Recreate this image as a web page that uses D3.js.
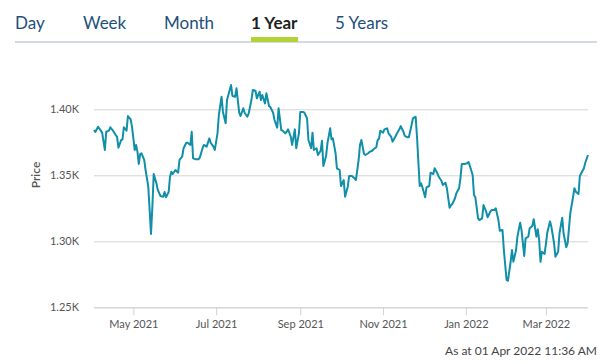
<!DOCTYPE html>
<html><head><meta charset="utf-8">
<script src="https://cdn.jsdelivr.net/npm/d3@7/dist/d3.min.js"></script>
<style>
html,body{margin:0;padding:0;background:#fff;}
svg{display:block;font-family:Lato,"Open Sans",sans-serif;}
</style></head>
<body>
<svg id="chart" width="611" height="364"></svg>
<script>
const tabs = ["Day","Week","Month","1 Year","5 Years"];
const activeTab = "1 Year";
const yTicks = [1250,1300,1350,1400];
const xTicks = ["2021-05-01","2021-07-01","2021-09-01","2021-11-01","2022-01-01","2022-03-01"];
const yTitle = "Price";
const footnote = "As at 01 Apr 2022 11:36 AM";

const dates = [
"2021-04-02","2021-04-03","2021-04-05","2021-04-07","2021-04-08","2021-04-10","2021-04-11","2021-04-13","2021-04-14","2021-04-16","2021-04-18","2021-04-19","2021-04-20","2021-04-22","2021-04-23","2021-04-24","2021-04-26","2021-04-27","2021-04-29","2021-04-30",
"2021-05-02","2021-05-03","2021-05-04","2021-05-05","2021-05-06","2021-05-07","2021-05-09","2021-05-10","2021-05-12","2021-05-13","2021-05-14","2021-05-15","2021-05-16","2021-05-18","2021-05-19","2021-05-21","2021-05-23","2021-05-24","2021-05-25","2021-05-27","2021-05-28","2021-05-29","2021-05-30",
"2021-06-01","2021-06-03","2021-06-04","2021-06-06","2021-06-07","2021-06-09","2021-06-10","2021-06-12","2021-06-13","2021-06-14","2021-06-16","2021-06-18","2021-06-19","2021-06-21","2021-06-22","2021-06-24","2021-06-26","2021-06-27","2021-06-29","2021-06-30",
"2021-07-02","2021-07-03","2021-07-05","2021-07-06","2021-07-08","2021-07-09","2021-07-10","2021-07-12","2021-07-13","2021-07-15","2021-07-16","2021-07-18","2021-07-19","2021-07-21","2021-07-22","2021-07-24","2021-07-25","2021-07-27","2021-07-28","2021-07-30","2021-07-31",
"2021-08-02","2021-08-03","2021-08-04","2021-08-06","2021-08-07","2021-08-09","2021-08-10","2021-08-12","2021-08-13","2021-08-15","2021-08-16","2021-08-18","2021-08-19","2021-08-21","2021-08-22","2021-08-23","2021-08-25","2021-08-26","2021-08-28","2021-08-29","2021-08-31",
"2021-09-01","2021-09-03","2021-09-04","2021-09-06","2021-09-07","2021-09-09","2021-09-10","2021-09-11","2021-09-13","2021-09-14","2021-09-16","2021-09-17","2021-09-18","2021-09-20","2021-09-21","2021-09-23","2021-09-24","2021-09-25","2021-09-27","2021-09-28","2021-09-30",
"2021-10-01","2021-10-03","2021-10-04","2021-10-06","2021-10-07","2021-10-09","2021-10-11","2021-10-12","2021-10-14","2021-10-15","2021-10-16","2021-10-18","2021-10-19","2021-10-21","2021-10-22","2021-10-24","2021-10-25","2021-10-27","2021-10-28","2021-10-29","2021-10-30",
"2021-11-01","2021-11-02","2021-11-04","2021-11-05","2021-11-07","2021-11-08","2021-11-10","2021-11-11","2021-11-13","2021-11-14","2021-11-16","2021-11-17","2021-11-19","2021-11-20","2021-11-22","2021-11-23","2021-11-25","2021-11-26","2021-11-27","2021-11-28","2021-11-29","2021-11-30",
"2021-12-02","2021-12-03","2021-12-05","2021-12-06","2021-12-08","2021-12-09","2021-12-11","2021-12-12","2021-12-14","2021-12-15","2021-12-17","2021-12-18","2021-12-20","2021-12-21","2021-12-22","2021-12-24","2021-12-25","2021-12-27","2021-12-28","2021-12-29","2021-12-31",
"2022-01-02","2022-01-03","2022-01-04","2022-01-06","2022-01-07","2022-01-08","2022-01-10","2022-01-11","2022-01-13","2022-01-14","2022-01-16","2022-01-17","2022-01-19","2022-01-20","2022-01-22","2022-01-23","2022-01-25","2022-01-26","2022-01-28","2022-01-29","2022-01-31",
"2022-02-01","2022-02-03","2022-02-04","2022-02-05","2022-02-07","2022-02-08","2022-02-10","2022-02-11","2022-02-13","2022-02-14","2022-02-16","2022-02-17","2022-02-19","2022-02-20","2022-02-22","2022-02-23","2022-02-24","2022-02-25","2022-02-26","2022-02-28",
"2022-03-01","2022-03-02","2022-03-04","2022-03-05","2022-03-07","2022-03-08","2022-03-10","2022-03-11","2022-03-13","2022-03-14","2022-03-16","2022-03-17","2022-03-19","2022-03-20","2022-03-22","2022-03-23","2022-03-25","2022-03-26","2022-03-27","2022-03-29","2022-03-30",
"2022-04-01"
];

const prices = [
1384.3,1382.8,1386.8,1383.8,1382.3,1369.2,1383.0,1383.8,1386.4,1383.8,1380.5,1379.2,1370.9,1376.7,1377.3,1386.4,1383.8,1394.9,1392.4,1386.8,
1369.2,1373.0,1367.9,1358.6,1366.1,1366.7,1361.6,1354.0,1341.4,1323.7,1305.5,1326.2,1351.0,1343.9,1338.9,1334.3,1333.8,1337.3,1333.3,1337.3,1348.9,1352.7,1351.0,
1354.0,1352.0,1361.6,1364.1,1370.5,1374.7,1374.7,1373.0,1383.0,1362.9,1362.1,1362.1,1363.6,1370.5,1373.0,1371.7,1378.0,1374.7,1371.7,1369.2,
1381.8,1395.7,1409.5,1398.2,1389.4,1407.0,1410.8,1418.4,1410.1,1409.5,1415.9,1397.4,1394.9,1400.8,1397.4,1394.4,1397.0,1407.0,1414.6,1414.1,1408.3,
1413.3,1407.0,1410.8,1404.5,1412.1,1402.5,1401.5,1397.4,1391.9,1386.1,1400.8,1384.3,1383.8,1381.8,1383.0,1384.8,1379.2,1373.0,1384.8,1370.5,1381.8,
1398.0,1398.0,1397.4,1393.2,1376.7,1370.5,1382.3,1369.2,1370.5,1365.4,1368.6,1376.2,1357.0,1364.6,1374.2,1385.6,1377.3,1378.0,1366.7,1355.3,1354.0,
1341.9,1346.4,1333.8,1341.4,1349.5,1349.5,1347.7,1346.4,1361.6,1373.0,1376.7,1366.1,1365.4,1366.7,1367.7,1368.6,1369.7,1371.2,1376.7,1377.7,1383.8,
1382.3,1384.8,1385.6,1381.8,1379.2,1375.5,1379.2,1381.3,1384.8,1387.3,1383.0,1379.8,1378.8,1378.8,1388.1,1393.2,1394.4,1379.2,1360.3,1341.9,1343.9,1340.9,
1333.3,1340.9,1341.9,1352.0,1351.0,1355.3,1351.5,1348.9,1345.9,1342.7,1344.4,1340.2,1325.5,1327.3,1328.3,1332.6,1336.4,1340.2,1347.7,1358.6,1358.6,
1359.1,1360.1,1357.0,1350.2,1335.1,1333.3,1317.4,1316.1,1317.4,1327.5,1322.4,1318.2,1322.4,1323.7,1323.7,1325.0,1316.1,1308.0,1308.6,1293.4,1270.7,
1270.1,1284.5,1293.4,1284.5,1293.4,1303.5,1314.1,1308.6,1288.9,1302.3,1303.5,1309.8,1311.6,1316.7,1303.5,1309.1,1301.0,1284.5,1292.1,1290.4,
1298.0,1306.5,1315.1,1311.1,1298.5,1288.3,1292.1,1306.1,1317.9,1306.1,1295.5,1298.5,1321.7,1327.5,1340.2,1337.6,1335.8,1349.5,1351.5,1355.3,1359.5,
1365.4
];

const parse = d3.timeParse("%Y-%m-%d");
const data = dates.map((d,i)=>({date:parse(d), value:prices[i]}));

const svg = d3.select("#chart");

// Tabs
const tabX = [15, 83, 164, 251, 335];
svg.append("line").attr("x1",15).attr("x2",597).attr("y1",42).attr("y2",42)
  .attr("stroke","#a9b6cc").attr("stroke-width",1.2);
const tabText = svg.selectAll(".tab").data(tabs).join("text")
  .attr("class","tab")
  .attr("x",(d,i)=>tabX[i]).attr("y",29)
  .attr("font-size",17)
  .attr("font-weight",d=>d===activeTab?"bold":"normal")
  .attr("fill",d=>d===activeTab?"#222":"#1d4f7c")
  .text(d=>d);
tabText.each(function(d){
  if(d===activeTab){
    const bb=this.getBBox();
    svg.append("rect").attr("x",bb.x).attr("y",37).attr("width",bb.width).attr("height",5).attr("fill","#b2d235");
  }
});

// Scales
const x0 = 94, x1 = 588;
const x = d3.scaleTime().domain(d3.extent(data,d=>d.date)).range([x0,x1]);
const y = d3.scaleLinear().domain([1250,1400]).range([307.3,109.3]);

// Grid + y labels
const yAxis = d3.axisLeft(y).tickValues(yTicks).tickSize(-(x1-x0)).tickPadding(15)
  .tickFormat(d=>(d/1000).toFixed(2)+"K");
const gy = svg.append("g").attr("transform",`translate(${x0},0)`).call(yAxis);
gy.select(".domain").remove();
gy.selectAll(".tick line").attr("stroke","#d3d3d3").attr("stroke-width",1);
gy.selectAll(".tick text").attr("fill","#555").attr("font-size",11).attr("font-family","Lato");

// X axis
const xAxis = d3.axisBottom(x).tickValues(xTicks.map(parse)).tickSize(8).tickPadding(5)
  .tickFormat(d3.timeFormat("%b %Y"));
const gx = svg.append("g").attr("transform",`translate(0,307.3)`).call(xAxis);
gx.select(".domain").attr("stroke","#d3d3d3").attr("d",`M${x0},0.5H${x1}`);
gx.selectAll(".tick line").attr("stroke","#d3d3d3");
gx.selectAll(".tick text").attr("fill","#555").attr("font-size",11).attr("font-family","Lato");

// Y title
svg.append("text").attr("transform","translate(40,175) rotate(-90)")
  .attr("text-anchor","middle").attr("font-size",12).attr("font-weight",600)
  .attr("fill","#555").text(yTitle);

// Line
const line = d3.line().x(d=>x(d.date)).y(d=>y(d.value));
svg.append("path").datum(data).attr("d",line)
  .attr("fill","none").attr("stroke","#118fa9").attr("stroke-width",2)
  .attr("stroke-linejoin","round");

// Footnote
svg.append("text").attr("x",597).attr("y",355).attr("text-anchor","end")
  .attr("font-size",12).attr("fill","#444").text(footnote);
</script>
</body></html>
